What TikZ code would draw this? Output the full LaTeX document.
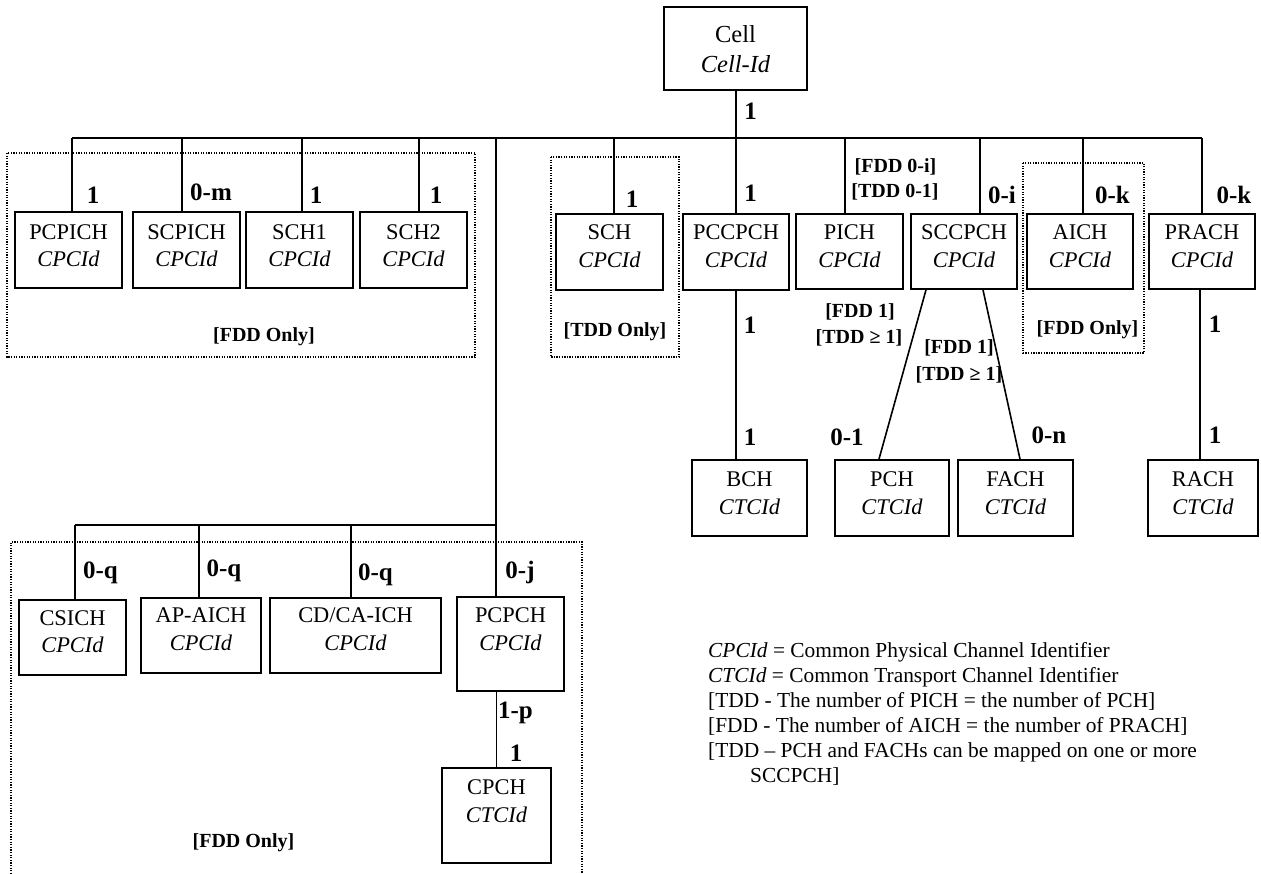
\documentclass[tikz,border=0pt]{standalone}
\usepackage{fontspec}
\setmainfont{Liberation Serif}
\newcommand\chan[7]{%
  \node[chbox, minimum width=#4pt, minimum height=#5pt] (#1) at (#2,#3) {};
  \node[boxtext] (#1-t) at ([yshift=#6pt]#1.center) {#7};}
\begin{document}
\begin{tikzpicture}[x=1pt,y=-1pt,
  chbox/.style={draw, line width=1.8pt, inner sep=0pt},
  boxtext/.style={align=center, font=\fontsize{22.4}{27.5}\selectfont, inner sep=0pt},
  card/.style={font=\bfseries\fontsize{25}{25}\selectfont, inner sep=0pt},
  note/.style={font=\bfseries\fontsize{20}{24}\selectfont, inner sep=0pt},
  conn/.style={line width=1.6pt},
  zone/.style={line width=1.3pt, dash pattern=on 1.3pt off 1.3pt},
  legend/.style={font=\fontsize{21.4}{25}\selectfont, inner sep=0pt, anchor=base west}
]
\fill[white] (0,0) rectangle (1261,874);
\useasboundingbox (0,0) rectangle (1261,874);

% dotted zones
\draw[zone] (7,153) rectangle (475,357);
\draw[zone] (551,157) rectangle (679,357);
\draw[zone] (1023,163) rectangle (1144,353);
\draw[zone] (11,874) -- (11,542) -- (582,542) -- (582,874);

% Cell
\node[chbox, minimum width=143pt, minimum height=83pt] (cell) at (735.5,48.5) {};
\node[align=center, inner sep=0pt, font=\fontsize{24.5}{30}\selectfont] (cell-t) at ([yshift=-1pt]cell.center) {Cell\\\textit{Cell-Id}};

% top row
\chan{pcpich}{68.5}{250}{107}{76}{4.5}{PCPICH\\\textit{CPCId}}
\chan{scpich}{186.5}{250}{107}{76}{4.5}{SCPICH\\\textit{CPCId}}
\chan{sch1}{299.5}{250}{107}{76}{4.5}{SCH1\\\textit{CPCId}}
\chan{sch2}{413.5}{250}{107}{76}{4.5}{SCH2\\\textit{CPCId}}
\chan{sch}{609.5}{252}{107}{76}{6}{SCH\\\textit{CPCId}}
\chan{pccpch}{736}{252}{106}{76}{6}{PCCPCH\\\textit{CPCId}}
\chan{pich}{849.5}{251.5}{107}{75}{5.5}{PICH\\\textit{CPCId}}
\chan{sccpch}{964}{251.5}{106}{75}{5.5}{SCCPCH\\\textit{CPCId}}
\chan{aich}{1080}{251.5}{106}{75}{5.5}{AICH\\\textit{CPCId}}
\chan{prach}{1202}{251.5}{106}{75}{5.5}{PRACH\\\textit{CPCId}}

% transport row
\chan{bch}{749.5}{498}{115}{76}{5}{BCH\\\textit{CTCId}}
\chan{pch}{892}{498}{114}{76}{5}{PCH\\\textit{CTCId}}
\chan{fach}{1015.5}{498}{115}{76}{5}{FACH\\\textit{CTCId}}
\chan{rach}{1203}{498}{110}{76}{5}{RACH\\\textit{CTCId}}

% lower group
\chan{csich}{72.5}{637.5}{107}{75}{6}{CSICH\\\textit{CPCId}}
\chan{apaich}{201}{635.5}{120}{75}{6.5}{AP-AICH\\\textit{CPCId}}
\chan{cdcaich}{355.5}{635.5}{171}{75}{6.5}{CD/CA-ICH\\\textit{CPCId}}
\chan{pcpch}{510.5}{644}{107}{94}{15}{PCPCH\\\textit{CPCId}}
\chan{cpch}{496.5}{815.5}{109}{95}{14.5}{CPCH\\\textit{CTCId}}

% bus junctions
\coordinate (j-pcpich) at (72,138);
\coordinate (j-scpich) at (182,138);
\coordinate (j-sch1) at (302,138);
\coordinate (j-sch2) at (419,138);
\coordinate (j-main) at (496,138);
\coordinate (j-sch) at (614,138);
\coordinate (j-cell) at (736,138);
\coordinate (j-pich) at (845,138);
\coordinate (j-sccpch) at (980,138);
\coordinate (j-aich) at (1083,138);
\coordinate (j-prach) at (1202,138);
\coordinate (k-csich) at (75,525);
\coordinate (k-apaich) at (199,525);
\coordinate (k-cdca) at (351,525);
\coordinate (k-main) at (496,525);

% connectors
\draw[conn] (cell.south -| j-cell) -- (j-cell);
\draw[conn] (j-pcpich) -- (j-prach);
\foreach \j/\b in {pcpich/pcpich, scpich/scpich, sch1/sch1, sch2/sch2, sch/sch, cell/pccpch, pich/pich, sccpch/sccpch, aich/aich, prach/prach}
  \draw[conn] (j-\j) -- (j-\j |- \b.north);
\draw[conn] (j-main) -- (j-main |- pcpch.north);
\draw[conn] (k-csich) -- (k-main);
\draw[conn] (k-csich) -- (k-csich |- csich.north);
\draw[conn] (k-apaich) -- (k-apaich |- apaich.north);
\draw[conn] (k-cdca) -- (k-cdca |- cdcaich.north);
\draw[conn] (cpch.north |- pcpch.south) -- (cpch.north);
\draw[conn] (pccpch.south) -- (pccpch.south |- bch.north);
\draw[conn] ([xshift=-2pt]prach.south) -- ([xshift=-2pt]prach.south |- rach.north);
\draw[conn] ([xshift=-38pt]sccpch.south) -- ([xshift=-13pt]pch.north);
\draw[conn] ([xshift=19pt]sccpch.south) -- ([xshift=4.5pt]fach.north);

% cardinalities
\node[card] (c-cell) at (750.5,111) {1};
\node[card] (c-pcpich) at (93,195) {1};
\node[card] (c-scpich) at (211,192) {0-m};
\node[card] (c-sch1) at (316,195) {1};
\node[card] (c-sch2) at (436,195) {1};
\node[card] (c-sch) at (632,199) {1};
\node[card] (c-pccpch) at (750.5,193.5) {1};
\node[note] (n-pich1) at (895.5,167) {[FDD 0-i]};
\node[note] (n-pich2) at (895,192) {[TDD 0-1]};
\node[card] (c-sccpch) at (1002,195) {0-i};
\node[card] (c-aich) at (1112.5,195) {0-k};
\node[card] (c-prach) at (1234,195) {0-k};
\node[note] (n-pch1) at (860,312) {[FDD 1]};
\node[note] (n-pch2) at (859,338) {[TDD ≥ 1]};
\node[note] (n-fach1) at (959,348) {[FDD 1]};
\node[note] (n-fach2) at (959,375) {[TDD ≥ 1]};
\node[card] (c-bch1) at (750,325) {1};
\node[card] (c-bch2) at (750,437) {1};
\node[card] (c-pch) at (847,437) {0-1};
\node[card] (c-fach) at (1049,435) {0-n};
\node[card] (c-rach1) at (1215,324) {1};
\node[card] (c-rach2) at (1215,435) {1};
\node[card] (c-csich) at (100.5,573) {0-q};
\node[card] (c-apaich) at (224,571) {0-q};
\node[card] (c-cdca) at (375.5,575) {0-q};
\node[card] (c-pcpch) at (520,572) {0-j};
\node[card] (c-cpch1) at (515.5,713) {1-p};
\node[card] (c-cpch2) at (516,753) {1};

% zone labels
\node[note] (z1-t) at (264,337) {[FDD Only]};
\node[note] (z2-t) at (615,332) {[TDD Only]};
\node[note] (z3-t) at (1087.5,330) {[FDD Only]};
\node[note] (z4-t) at (243.5,843) {[FDD Only]};

% legend
\node[legend] (l1) at (708,657) {\textit{CPCId} = Common Physical Channel Identifier};
\node[legend] (l2) at (708,682) {\textit{CTCId} = Common Transport Channel Identifier};
\node[legend] (l3) at (708,707) {[TDD - The number of PICH = the number of PCH]};
\node[legend] (l4) at (708,732) {[FDD - The number of AICH = the number of PRACH]};
\node[legend] (l5) at (708,757) {[TDD – PCH and FACHs can be mapped on one or more};
\node[legend] (l6) at (750,782) {SCCPCH]};
\end{tikzpicture}
\end{document}
